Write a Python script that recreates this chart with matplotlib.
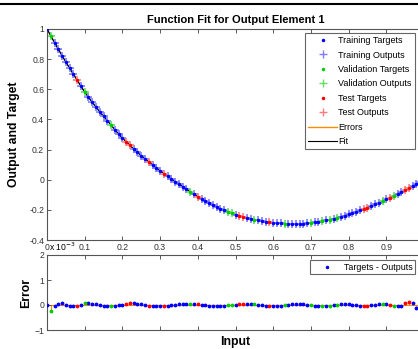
import numpy as np
import matplotlib
matplotlib.use("Agg")
import matplotlib.pyplot as plt
from matplotlib.lines import Line2D

plt.rcParams['font.family'] = ['Liberation Sans', 'DejaVu Sans']

# input samples (0 .. 0.99, step 0.01)
inputs = [i / 100 for i in range(100)]

# targets
targets = [
    1.000, 0.955, 0.910, 0.866, 0.823, 0.781, 0.740, 0.700, 0.661, 0.620,
    0.582, 0.548, 0.514, 0.482, 0.451, 0.421, 0.392, 0.362, 0.332, 0.303,
    0.276, 0.252, 0.228, 0.204, 0.181, 0.160, 0.139, 0.118, 0.098, 0.079,
    0.060, 0.041, 0.023, 0.005, -0.012, -0.029, -0.046, -0.063, -0.080, -0.097,
    -0.113, -0.127, -0.141, -0.155, -0.168, -0.181, -0.193, -0.204, -0.214, -0.223,
    -0.232, -0.240, -0.247, -0.254, -0.260, -0.265, -0.270, -0.275, -0.279, -0.282,
    -0.285, -0.288, -0.290, -0.292, -0.293, -0.294, -0.294, -0.293, -0.291, -0.289,
    -0.286, -0.283, -0.279, -0.275, -0.270, -0.265, -0.259, -0.252, -0.245, -0.238,
    -0.230, -0.222, -0.213, -0.204, -0.195, -0.185, -0.175, -0.164, -0.153, -0.142,
    -0.131, -0.119, -0.107, -0.095, -0.082, -0.070, -0.057, -0.044, -0.031, -0.018,
]

# errors (targets - outputs), in units of 1e-3
errors = [
    0.00, -0.23, -0.05, 0.06, 0.07, 0.02, -0.04, -0.05, -0.03, 0.02,
    0.07, 0.09, 0.06, 0.03, 0.01, -0.02, -0.04, -0.05, -0.04, -0.01,
    0.02, 0.05, 0.07, 0.08, 0.06, 0.04, 0.01, -0.02, -0.04, -0.05,
    -0.05, -0.04, -0.02, 0.00, 0.02, 0.03, 0.04, 0.05, 0.05, 0.04,
    0.03, 0.01, -0.01, -0.03, -0.04, -0.05, -0.04, -0.03, -0.01, 0.01,
    0.02, 0.03, 0.04, 0.05, 0.05, 0.04, 0.02, 0.00, -0.02, -0.03,
    -0.04, -0.03, -0.02, 0.00, 0.02, 0.04, 0.05, 0.05, 0.04, 0.02,
    0.00, -0.02, -0.04, -0.05, -0.04, -0.02, 0.00, 0.02, 0.04, 0.05,
    0.04, 0.02, -0.01, -0.03, -0.05, -0.04, -0.01, 0.02, 0.05, 0.06,
    0.04, 0.01, -0.03, -0.05, -0.02, 0.10, 0.14, 0.08, -0.12, -0.05,
]

# sample indices of the validation and test sets
val_idx = [1, 10, 17, 38, 48, 49, 55, 63, 70, 73, 75, 77, 89, 92]
test_idx = [8, 21, 22, 27, 31, 40, 51, 52, 59, 84, 85, 91, 95, 96]

x = np.array(inputs)
t = np.array(targets)
e = np.array(errors)
y = t - e * 1e-3

groups = np.zeros(len(x), dtype=int)
groups[val_idx] = 1
groups[test_idx] = 2
cols = ['#0000ff', '#00cc00', '#ff0000']
lightcols = ['#7f7fff', '#66dd66', '#ff7f7f']
orange = '#ff8c00'

fig = plt.figure(figsize=(4.18, 3.49), dpi=100)
ax1 = fig.add_axes([47/418, 1-240/349, 377/418, 211/349])
ax2 = fig.add_axes([47/418, 1-330/349, 377/418, 75/349])

# top border of the window
fig.add_artist(Line2D([0, 1], [1-4/349, 1-4/349], color='black', lw=1.5))

ax1.plot(x, t, color='black', lw=1, zorder=1)
for g in range(3):
    m = groups == g
    ax1.plot(x[m], y[m], '+', color=lightcols[g], ms=6, mew=1.2, zorder=2)
    ax1.plot(x[m], t[m], '.', color=cols[g], ms=3, zorder=3)

ax1.set_xlim(0, 1)
ax1.set_ylim(-0.4, 1)
ax1.set_xticks([0, 0.1, 0.2, 0.3, 0.4, 0.5, 0.6, 0.7, 0.8, 0.9, 1])
ax1.set_xticklabels(['0', '0.1', '0.2', '0.3', '0.4', '0.5', '0.6', '0.7', '0.8', '0.9', ''])
ax1.set_yticks([-0.4, -0.2, 0, 0.2, 0.4, 0.6, 0.8, 1])
ax1.set_yticklabels(['-0.4', '-0.2', '0', '0.2', '0.4', '0.6', '0.8', '1'])
ax1.set_ylabel('Output and Target', fontsize=8.8, fontweight='bold')
ax1.set_title('Function Fit for Output Element 1', fontsize=8, fontweight='bold', pad=4)

handles = [
    Line2D([], [], ls='none', marker='.', color=cols[0], ms=3),
    Line2D([], [], ls='none', marker='+', color=lightcols[0], ms=6),
    Line2D([], [], ls='none', marker='.', color=cols[1], ms=3),
    Line2D([], [], ls='none', marker='+', color=lightcols[1], ms=6),
    Line2D([], [], ls='none', marker='.', color=cols[2], ms=3),
    Line2D([], [], ls='none', marker='+', color=lightcols[2], ms=6),
    Line2D([], [], color=orange, lw=1),
    Line2D([], [], color='black', lw=0.8),
]
labels = ['Training Targets', 'Training Outputs', 'Validation Targets',
          'Validation Outputs', 'Test Targets', 'Test Outputs', 'Errors', 'Fit']
leg = ax1.legend(handles, labels, loc='upper left', bbox_to_anchor=(305/418, 1-33/349),
                 bbox_transform=fig.transFigure, fontsize=6.5, frameon=True, fancybox=False,
                 borderpad=0.35, labelspacing=0.6, handlelength=3.2, handletextpad=0.15,
                 borderaxespad=0)
leg.get_frame().set_edgecolor('#404040')
leg.get_frame().set_linewidth(0.8)

ax2.axhline(0, color=orange, lw=0.8, zorder=1)
ax2.vlines(x, 0, e, color=orange, lw=0.8, zorder=1)
for g in range(3):
    m = groups == g
    ax2.plot(x[m], e[m], '.', color=cols[g], ms=3.5, zorder=3)
ax2.set_xlim(0, 1)
ax2.set_ylim(-1, 2)
ax2.set_yticks([-1, 0, 1, 2])
ax2.set_xticks([0, 0.1, 0.2, 0.3, 0.4, 0.5, 0.6, 0.7, 0.8, 0.9, 1])
ax2.set_xticklabels([])
ax2.set_ylabel('Error', fontsize=8.8, fontweight='bold')
ax2.set_xlabel('Input', fontsize=8.8, fontweight='bold', labelpad=2)
ax2.text(0.005, 1.03, 'x 10$^{-3}$', transform=ax2.transAxes, fontsize=6.2, va='bottom')

leg2 = ax2.legend([Line2D([], [], ls='none', marker='.', color=cols[0], ms=3)],
                  ['Targets - Outputs'], loc='upper left',
                  bbox_to_anchor=(310/418, 1-260/349), bbox_transform=fig.transFigure,
                  fontsize=6.4, frameon=True, fancybox=False, borderpad=0.3,
                  handlelength=3.2, handletextpad=0.3, borderaxespad=0)
leg2.get_frame().set_edgecolor('#404040')
leg2.get_frame().set_linewidth(0.8)

for ax in (ax1, ax2):
    ax.tick_params(direction='in', top=True, right=True, labelsize=6.2, length=3,
                   width=0.6, colors='#404040', labelcolor='#333333', pad=2)
    for s in ax.spines.values():
        s.set_color('#555555')
        s.set_linewidth(0.8)

ax1.yaxis.set_label_coords(-0.072, 0.5)
ax2.yaxis.set_label_coords(-0.04, 0.5)

fig.savefig('out.png', dpi=100)
